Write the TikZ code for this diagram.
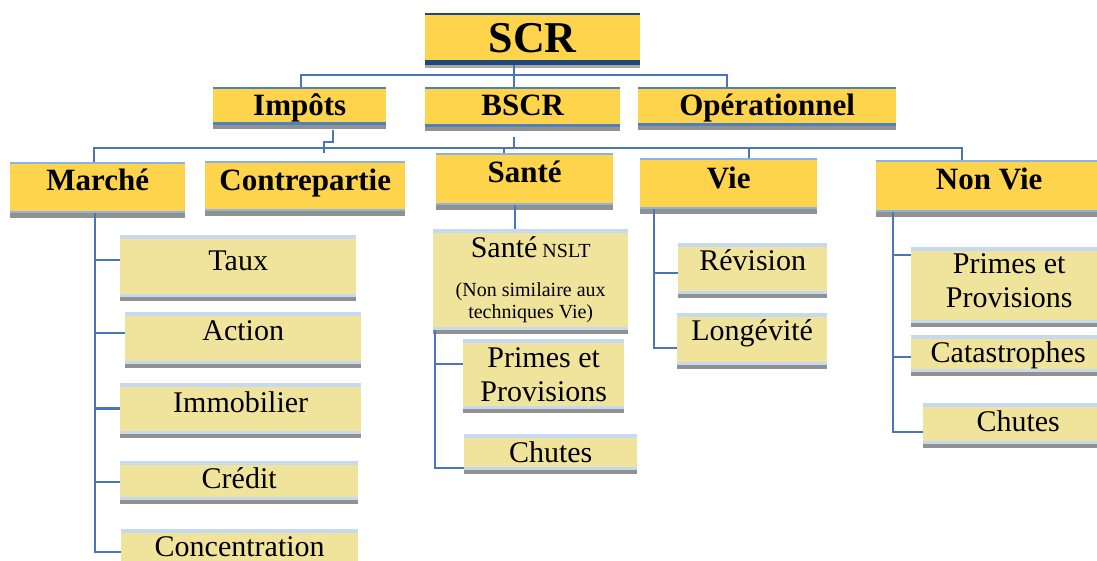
\documentclass[tikz,border=0pt]{standalone}
\usepackage{fontspec}
\setmainfont{Liberation Serif}
\usetikzlibrary{shadows}
\definecolor{gold}{RGB}{253,212,76}
\definecolor{khaki}{RGB}{240,228,156}
\definecolor{conncol}{RGB}{74,118,184}
\definecolor{lband}{RGB}{198,217,240}
\definecolor{tband}{RGB}{141,179,226}
\definecolor{mband}{RGB}{79,129,189}
\definecolor{navy}{RGB}{31,73,125}
\definecolor{shad}{RGB}{145,145,145}
\tikzset{
  bx/.style={anchor=base west, inner sep=0pt, align=flush center},
  bands/.style n args={4}{path picture={
     \fill[#1] (path picture bounding box.north west) rectangle ([yshift=-#2]path picture bounding box.north east);
     \fill[#3] (path picture bounding box.south west) rectangle ([yshift=#4]path picture bounding box.south east);}},
  scrbox/.style={bx, fill=gold, bands={navy}{2pt}{navy}{5pt},
     drop shadow={shadow xshift=0pt, shadow yshift=-3pt, fill=shad!80, opacity=1},
     font=\fontsize{44}{48}\selectfont\bfseries},
  lonebox/.style={bx, fill=gold, bands={mband}{2pt}{mband}{3pt},
     drop shadow={shadow xshift=0pt, shadow yshift=-4pt, fill=shad, opacity=1},
     font=\fontsize{31}{34}\selectfont\bfseries},
  ltwobox/.style={bx, fill=gold, bands={tband}{2pt}{tband}{2pt},
     drop shadow={shadow xshift=0pt, shadow yshift=-5pt, fill=shad, opacity=1},
     font=\fontsize{31}{34}\selectfont\bfseries},
  kbox/.style={bx, fill=khaki, bands={lband}{4pt}{lband}{3pt},
     drop shadow={shadow xshift=0pt, shadow yshift=-4pt, fill=shad, opacity=1},
     font=\fontsize{30}{34}\selectfont},
  conn/.style={draw=conncol, line width=2.4pt}
}
\begin{document}
\begin{tikzpicture}[x=1pt,y=1pt]
\useasboundingbox (0,0) rectangle (1097,-560);
\fill[white] (0,0) rectangle (1097,-560);
\clip (0,0) rectangle (1097,-560);

% top
\node[scrbox, text width=215pt, text height=39pt, text depth=13pt] (scr) at (425,-52) {SCR};
% level 1
\node[lonebox, text width=173pt, text height=28pt, text depth=10pt] (imp) at (213,-115) {Impôts};
\node[lonebox, text width=195pt, text height=28pt, text depth=12pt] (bscr) at (425,-115) {BSCR};
\node[lonebox, text width=258pt, text height=28pt, text depth=11pt] (oper) at (638,-115) {Opérationnel};
% level 2
\node[ltwobox, text width=175pt, text height=28pt, text depth=23pt] (marche) at (10,-190) {Marché};
\node[ltwobox, text width=200pt, text height=29pt, text depth=21pt] (contre) at (205,-190) {Contrepartie};
\node[ltwobox, text width=177pt, text height=29pt, text depth=23pt] (sante) at (436,-182) {Santé};
\node[ltwobox, text width=177pt, text height=30pt, text depth=21pt] (vie) at (640,-188) {Vie};
\node[ltwobox, text width=226pt, text height=29pt, text depth=23pt] (nonvie) at (876,-189) {Non Vie};
% Marché children
\node[kbox, text width=236pt, text height=35pt, text depth=27pt] (taux) at (120,-270) {Taux};
\node[kbox, text width=236pt, text height=28pt, text depth=24pt] (action) at (125,-340) {Action};
\node[kbox, text width=241pt, text height=29pt, text depth=22pt] (immo) at (120,-412) {Immobilier};
\node[kbox, text width=238pt, text height=27pt, text depth=12pt] (credit) at (120,-488) {Crédit};
\node[kbox, text width=237pt, text height=27pt, text depth=19pt] (conc) at (121,-556) {Concentration};
% Santé children
\node[kbox, text width=195pt, text height=28pt, text depth=73pt, font=\fontsize{20}{22}\selectfont] (nslt) at (433,-257)
  {{\fontsize{30}{34}\selectfont Santé} NSLT\\[17pt](Non similaire aux\\ techniques Vie)};
\node[kbox, text width=161pt, text height=28pt, text depth=42pt] (primess) at (463,-367) {Primes et\\ Provisions};
\node[kbox, text width=173pt, text height=28pt, text depth=8pt] (chutess) at (464,-462) {Chutes};
% Vie children
\node[kbox, text width=149pt, text height=27pt, text depth=24pt] (revision) at (678,-270) {Révision};
\node[kbox, text width=150pt, text height=27pt, text depth=25pt] (longev) at (677,-340) {Longévité};
% Non Vie children
\node[kbox, text width=196pt, text height=26pt, text depth=50pt] (primesnv) at (911,-273) {Primes et\\ Provisions};
\node[kbox, text width=194pt, text height=27pt, text depth=10pt] (catas) at (911,-362) {Catastrophes};
\node[kbox, text width=190pt, text height=28pt, text depth=13pt] (chutesnv) at (923,-431) {Chutes};

% connectors level 1
\coordinate (bal) at (301,-75);
\coordinate (bar) at (727,-75);
\coordinate (bam) at (514,-75);
\draw[conn] (imp.north -| bal) -- (bal) -- (bar) -- (oper.north -| bar);
\draw[conn] (scr.south -| bam) -- (bscr.north -| bam);
% connectors level 2
\coordinate (bbl) at (94,-148);
\coordinate (bbr) at (962,-148);
\coordinate (bbv) at (749,-148);
\draw[conn] (marche.north -| bbl) -- (bbl) -- (bbr) -- (nonvie.north -| bbr);
\draw[conn] (bbv) -- (vie.north -| bbv);
\coordinate (ija) at (333,-142);
\coordinate (ijb) at (324,-142);
\coordinate (ijc) at (324,-153);
\draw[conn] ([yshift=-5pt]imp.south -| ija) -- (ija) -- (ijb) -- (ijc);
\coordinate (bja) at (514,-148);
\coordinate (bjb) at (504,-148);
\draw[conn] ([yshift=-10pt]bscr.south -| bja) -- (bja) -- (bjb) -- (sante.north -| bjb);
% Marché branches
\coordinate (mt) at (95,0);
\draw[conn] (marche.south -| mt) |- ([yshift=6pt]taux.west);
\draw[conn] (marche.south -| mt) |- ([yshift=5pt]action.west);
\draw[conn] (marche.south -| mt) |- (immo.west);
\draw[conn] (marche.south -| mt) |- ([yshift=-1.5pt]credit.west);
\draw[conn] (marche.south -| mt) |- (conc.west);
% Santé
\coordinate (st) at (515,0);
\draw[conn] (sante.south -| st) -- (nslt.north -| st);
\coordinate (nt) at (435,0);
\draw[conn] (nslt.south -| nt) |- ([yshift=10pt]primess.west);
\draw[conn] (nslt.south -| nt) |- ([yshift=-16pt]chutess.west);
% Vie
\coordinate (vt) at (654,0);
\draw[conn] (vie.south -| vt) |- ([yshift=-4.5pt]revision.west);
\draw[conn] (vie.south -| vt) |- ([yshift=-9pt]longev.west);
% Non Vie
\coordinate (nvt) at (893,0);
\draw[conn] (nonvie.south -| nvt) |- ([yshift=30pt]primesnv.west);
\draw[conn] (nonvie.south -| nvt) |- ([yshift=-3.5pt]catas.west);
\draw[conn] (nonvie.south -| nvt) |- ([yshift=-8.5pt]chutesnv.west);
\end{tikzpicture}
\end{document}
